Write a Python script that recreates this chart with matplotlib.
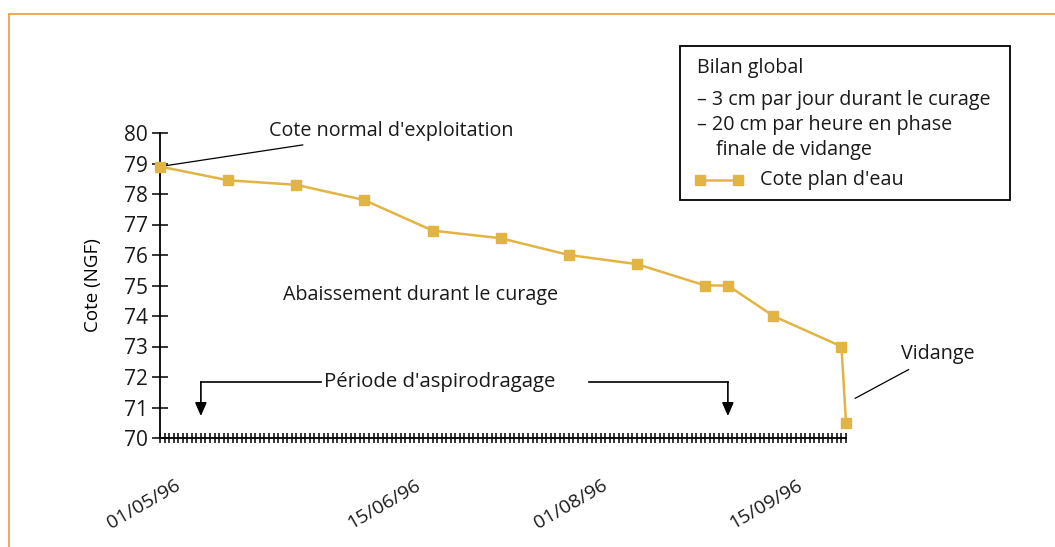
import matplotlib
matplotlib.use("Agg")
import matplotlib.pyplot as plt
from matplotlib.ticker import MultipleLocator
from matplotlib.lines import Line2D
from matplotlib.patches import Rectangle
import matplotlib.transforms as mtransforms

# ---- data ----
days = [0, 15, 30, 45, 60, 75, 90, 105, 120, 125, 135, 150, 151]  # days since 01/05/96
cote = [78.9, 78.45, 78.3, 77.8, 76.8, 76.55, 76.0, 75.7, 75.0, 75.0, 74.0, 73.0, 70.5]
date_labels = ["01/05/96", "15/06/96", "01/08/96", "15/09/96"]
date_label_pos = [0, 53, 94, 137]
y_ticks = list(range(70, 81))
series_name = "Cote plan d'eau"
period_days = [9, 125]          # Période d'aspirodragage
legend_lines = ["Bilan global", "– 3 cm par jour durant le curage",
                "– 20 cm par heure en phase", "  finale de vidange"]

W, H = 1055, 547
FONT = "Open Sans"
plt.rcParams['font.family'] = [FONT, 'DejaVu Sans']
plt.rcParams['text.color'] = '#1a1a1a'
LINE_C = '#E2B443'
FS = 14.2

fig = plt.figure(figsize=(W / 100, H / 100), dpi=100)
def fx(p): return p / W
def fy(p): return 1 - p / H

# orange frame
fig.add_artist(Line2D([fx(9), 1], [fy(14), fy(14)], color='#E9A544', lw=1.3))
fig.add_artist(Line2D([fx(9), fx(9)], [fy(14), 0], color='#E9A544', lw=1.3))

ax = fig.add_axes([fx(160), fy(438), fx(846) - fx(160), fy(133) - fy(438)])
ax.plot(days, cote, color=LINE_C, lw=1.8, marker='s', ms=7, mec=LINE_C, mfc=LINE_C,
        clip_on=False, zorder=5, label=series_name)
ax.set_xlim(0, 151)
ax.set_ylim(70, 80)
for s in ['top', 'right']:
    ax.spines[s].set_visible(False)
for s in ['left', 'bottom']:
    ax.spines[s].set_linewidth(1.3)
ax.set_yticks(y_ticks)
ax.tick_params(axis='y', direction='inout', length=11, width=1.1, labelsize=15, pad=3,
               labelcolor='#1a1a1a')
ax.set_xticks([])
ax.xaxis.set_minor_locator(MultipleLocator(1))
ax.tick_params(axis='x', which='minor', direction='inout', length=6.5, width=1.1)
ax.set_ylabel("Cote (NGF)", fontsize=13.5, labelpad=16)

# rotated date labels
off = mtransforms.ScaledTranslation(14 / 100, -38 / 100, fig.dpi_scale_trans)
trans = mtransforms.blended_transform_factory(ax.transData, ax.transAxes) + off
for lab, p in zip(date_labels, date_label_pos):
    ax.text(p, 0, lab, transform=trans, rotation=30, rotation_mode='anchor',
            ha='right', va='top', fontsize=14)

# annotations
ax.annotate("Cote normal d'exploitation", xy=(days[0], cote[0]), xytext=(24, 80.05),
            fontsize=FS, va='center', ha='left', annotation_clip=False,
            arrowprops=dict(arrowstyle='-', color='black', lw=0.9, shrinkA=3, shrinkB=0))
ax.text(27, 74.7, "Abaissement durant le curage", fontsize=FS, va='center', ha='left')
ax.annotate("Vidange", xy=(153, 71.3), xytext=(163, 72.75), fontsize=FS,
            va='center', ha='left', annotation_clip=False,
            arrowprops=dict(arrowstyle='-', color='black', lw=0.9, shrinkA=4, shrinkB=0))

# Période d'aspirodragage bracket
yb, ya = 71.84, 70.72
ax.text(36, yb, "Période d'aspirodragage", fontsize=FS + 0.5, va='center', ha='left')
ax.plot([period_days[0], 35.5], [yb, yb], color='black', lw=1.2)
ax.plot([94.5, period_days[1]], [yb, yb], color='black', lw=1.2)
for d in period_days:
    ax.annotate("", xy=(d, ya), xytext=(d, yb),
                arrowprops=dict(arrowstyle='-|>,head_length=0.8,head_width=0.35',
                                color='black', lw=1.2, shrinkA=0, shrinkB=0))

# legend box
fig.add_artist(Rectangle((fx(680), fy(200)), fx(1010) - fx(680), fy(46) - fy(200),
                         fill=False, edgecolor='black', lw=1.3))
ys = [68, 100, 125, 150]
for t, yy in zip(legend_lines, ys):
    x0 = 697
    if t.startswith("  "):
        x0, t = 716, t.strip()
    fig.text(fx(x0), fy(yy), t, fontsize=FS, va='center', ha='left')
fig.add_artist(Line2D([fx(700), fx(738)], [fy(180), fy(180)], color=LINE_C, lw=1.8,
                      marker='s', ms=7, mfc=LINE_C, mec=LINE_C))
fig.text(fx(760), fy(180), series_name, fontsize=FS, va='center', ha='left')

fig.savefig("out.png", dpi=100)
